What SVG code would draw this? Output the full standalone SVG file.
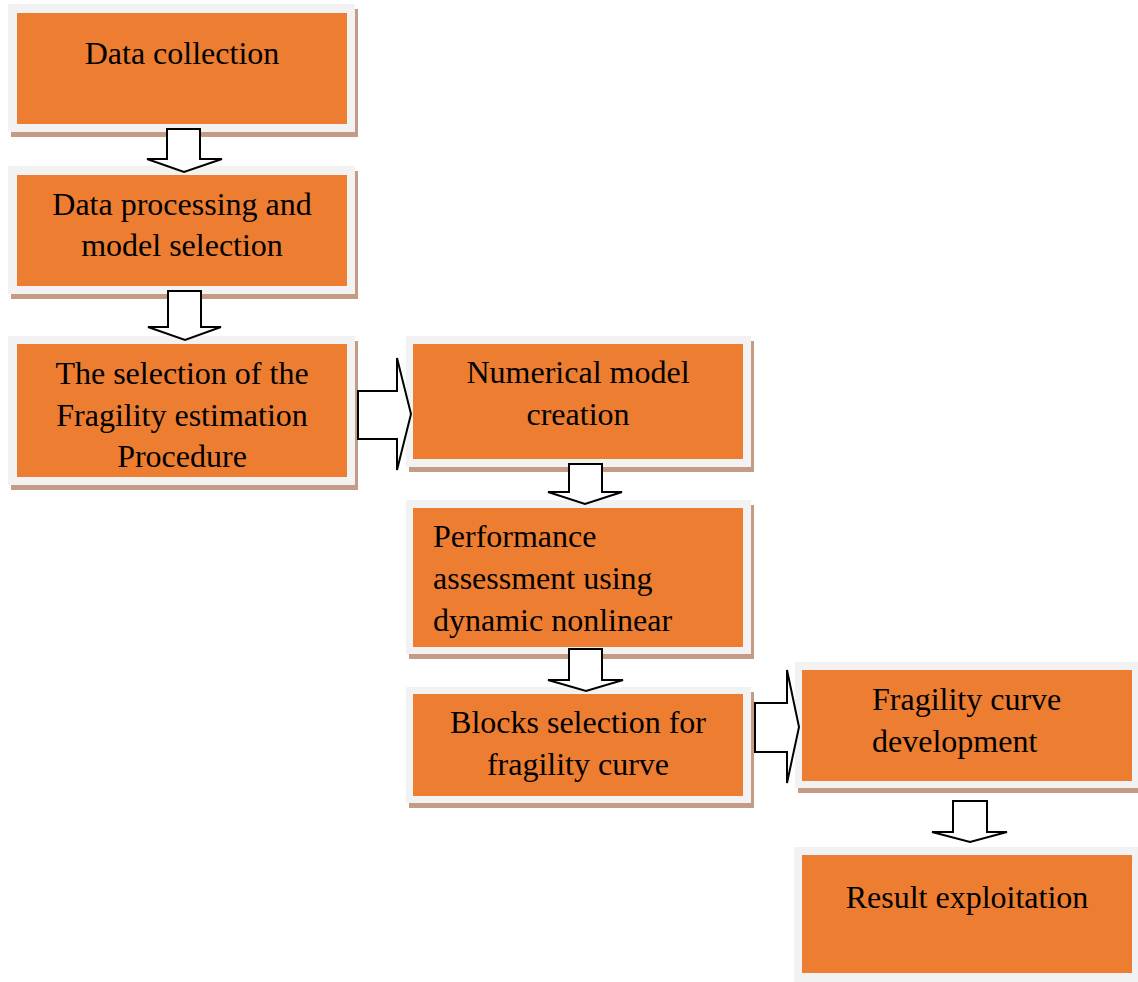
<svg xmlns="http://www.w3.org/2000/svg" width="1138" height="982" viewBox="0 0 1138 982">
<style>
.frame{fill:#f2f2f2}
.shadow{fill:#c49c85}
.box{fill:#ed7d31}
.t{font-family:"Liberation Serif","Times New Roman",serif;font-size:32px;fill:#000}
.c{text-anchor:middle}
.arr{fill:#fff;stroke:#000;stroke-width:2;stroke-linejoin:miter}
</style>
<rect width="1138" height="982" fill="#fff"/>
<g id="n1">
<rect class="shadow" x="11" y="9" width="347" height="128"/>
<rect class="frame" x="8" y="4" width="347" height="128"/>
<rect class="box" x="17" y="13" width="330" height="111"/>
<text class="t c" x="182" y="64">Data collection</text>
</g>
<g id="n2">
<rect class="shadow" x="11" y="171" width="347" height="128"/>
<rect class="frame" x="8" y="166" width="347" height="128"/>
<rect class="box" x="17" y="175" width="330" height="111"/>
<text class="t c" x="182" y="215">Data processing and</text>
<text class="t c" x="182" y="256">model selection</text>
</g>
<g id="n3">
<rect class="shadow" x="11" y="341" width="347" height="149"/>
<rect class="frame" x="8" y="336" width="347" height="149"/>
<rect class="box" x="17" y="344" width="330" height="133"/>
<text class="t c" x="182" y="384">The selection of the</text>
<text class="t c" x="182" y="426">Fragility estimation</text>
<text class="t c" x="182" y="467">Procedure</text>
</g>
<g id="n4">
<rect class="shadow" x="409" y="341" width="345" height="131"/>
<rect class="frame" x="406" y="336" width="345" height="131"/>
<rect class="box" x="413" y="344" width="330" height="115"/>
<text class="t c" x="578" y="383">Numerical model</text>
<text class="t c" x="578" y="425">creation</text>
</g>
<g id="n5">
<rect class="shadow" x="409" y="505" width="345" height="154"/>
<rect class="frame" x="406" y="500" width="345" height="154"/>
<rect class="box" x="413" y="508" width="330" height="139"/>
<text class="t" x="433" y="547">Performance</text>
<text class="t" x="433" y="589">assessment using</text>
<text class="t" x="433" y="631">dynamic nonlinear</text>
</g>
<g id="n6">
<rect class="shadow" x="409" y="692" width="345" height="116"/>
<rect class="frame" x="406" y="687" width="345" height="116"/>
<rect class="box" x="413" y="694" width="330" height="102"/>
<text class="t c" x="578" y="733">Blocks selection for</text>
<text class="t c" x="578" y="775">fragility curve</text>
</g>
<g id="n7">
<rect class="shadow" x="798" y="667" width="343" height="126"/>
<rect class="frame" x="795" y="662" width="343" height="126"/>
<rect class="box" x="802" y="670" width="330" height="111"/>
<text class="t" x="872" y="710">Fragility curve</text>
<text class="t" x="872" y="752">development</text>
</g>
<g id="n8">
<rect class="frame" x="794" y="847" width="344" height="135"/>
<rect class="box" x="802" y="855" width="330" height="118"/>
<text class="t c" x="967" y="908">Result exploitation</text>
</g>
<g id="connectors">
<polygon class="arr" points="167,129 200,129 200,159 222,159 184,172 147,159 167,159"/>
<polygon class="arr" points="168,291 201,291 201,327 221,327 185,340 148,327 168,327"/>
<polygon class="arr" points="358,391 397,391 397,358 411,414 397,470 397,439 358,439"/>
<polygon class="arr" points="569,464 602,464 602,492 622,492 585,504 548,492 569,492"/>
<polygon class="arr" points="569,649 602,649 602,680 623,680 586,691 548,680 569,680"/>
<polygon class="arr" points="755,703 787,703 787,670 799,727 787,783 787,752 755,752"/>
<polygon class="arr" points="953,801 987,801 987,832 1007,832 970,842 932,832 953,832"/>
</g>
</svg>
